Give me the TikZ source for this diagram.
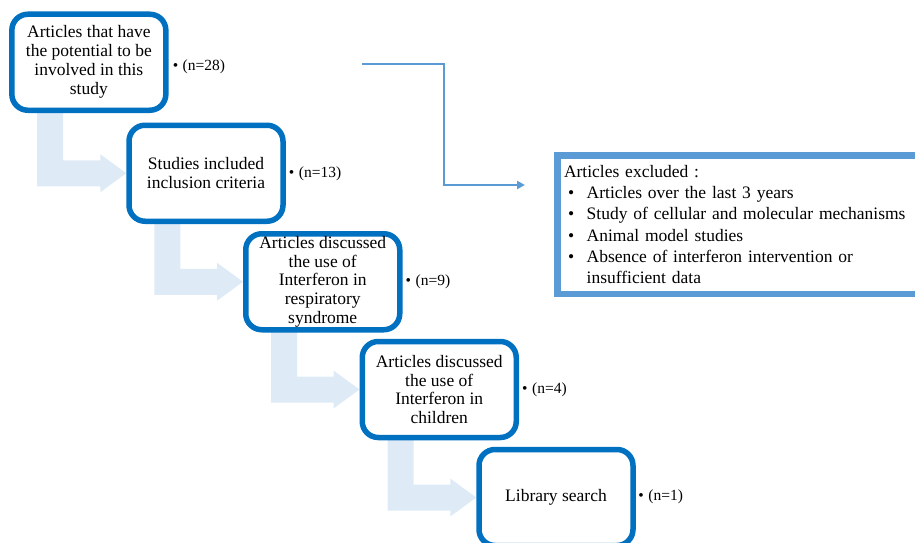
\documentclass[tikz,border=0pt]{standalone}
\usepackage{fontspec}
\setmainfont{Liberation Serif}
\usetikzlibrary{calc,arrows.meta,backgrounds}
\definecolor{boxblue}{HTML}{0070C0}
\definecolor{lineblue}{HTML}{5B9BD5}
\definecolor{paleblue}{HTML}{DEEAF6}
\begin{document}
\begin{tikzpicture}[x=1pt,y=-1pt,
  stepbox/.style={draw=boxblue, line width=5.5pt, rounded corners=16pt, fill=white,
    minimum width=154pt, minimum height=96pt, align=center, inner sep=0pt,
    font=\fontsize{17.5}{19}\selectfont},
  tightbox/.style={stepbox, font=\fontsize{17.5}{18.7}\selectfont},
  count/.style={anchor=west, inner sep=0pt, font=\fontsize{15.5}{18}\selectfont},
  flow/.style={fill=paleblue, draw=none},
  link/.style={draw=lineblue, line width=2pt, -{Triangle[length=8pt,width=8pt]}}]
\clip (0,0) rectangle (915,543);

% step boxes
\node[stepbox] (b1) at (88.85,62.25) {Articles that have\\the potential to be\\involved in this\\study};
\node[stepbox] (b2) at (206,173.25) {Studies included\\inclusion criteria};
\node[tightbox] (b3) at (322.75,281.75) {Articles discussed\\the use of\\Interferon in\\respiratory\\syndrome};
\node[tightbox] (b4) at (439.25,389.5) {Articles discussed\\the use of\\Interferon in\\children};
\node[stepbox] (b5) at (556,497.5) {Library search};

% bent block arrows (behind the boxes)
\begin{scope}[on background layer]
\foreach \a/\b in {b1/b2,b2/b3,b3/b4,b4/b5}{
  \fill[flow] ($(\a.west)+(28,0)$) -- ($(\a.west)+(54,0)$)
    -- ($(\a.west|-\b.west)+(54,-13)$) -- ($(\b.west)+(-26,-13)$)
    -- ($(\b.west)+(-26,-19)$) -- (\b.west) -- ($(\b.west)+(-26,19)$)
    -- ($(\b.west)+(-26,13)$) -- ($(\a.west|-\b.west)+(28,13)$) -- cycle;
}
\end{scope}

% counts
\node[count] (n1) at ($(b1.east)+(4,4.5)$) {•\hspace{4.5pt}(n=28)};
\node[count] (n2) at ($(b2.east)+(3,0.5)$) {•\hspace{4.5pt}(n=13)};
\node[count] (n3) at ($(b3.east)+(3,0)$) {•\hspace{4.5pt}(n=9)};
\node[count] (n4) at ($(b4.east)+(3,0)$) {•\hspace{4.5pt}(n=4)};
\node[count] (n5) at ($(b5.east)+(2.5,-1)$) {•\hspace{4.5pt}(n=1)};

% excluded box
\node[draw=lineblue, line width=6.5pt, anchor=north west, minimum height=138.5pt,
  text width=360pt, inner xsep=6.75pt, inner ysep=0pt, align=left,
  font=\fontsize{17.5}{21.3}\selectfont] (excl) at (554,152) {%
Articles excluded :\\
\makebox[22.7pt][l]{\hspace*{4pt}•}Articles over the last 3 years\\
\makebox[22.7pt][l]{\hspace*{4pt}•}Study of cellular and molecular mechanisms\\
\makebox[22.7pt][l]{\hspace*{4pt}•}Animal model studies\\
\makebox[22.7pt][l]{\hspace*{4pt}•}Absence of interferon intervention or\\
\hspace*{22.7pt}insufficient data};

% connector
\coordinate (c0) at (362,64);
\coordinate (c1) at (525,185);
\draw[link] (c0) -| ($(c0)!0.5!(c1)$) |- (c1);
\end{tikzpicture}
\end{document}
